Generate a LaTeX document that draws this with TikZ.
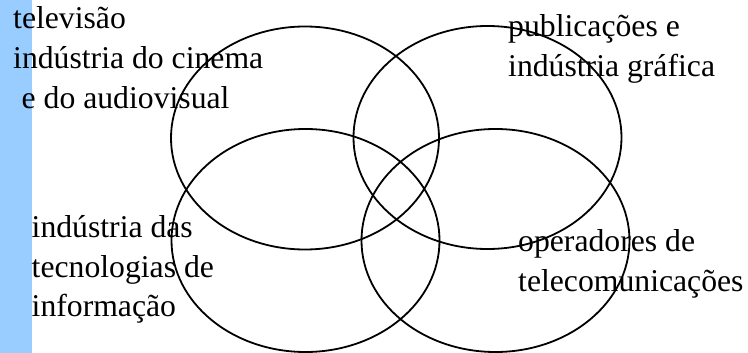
\documentclass[tikz,border=0pt]{standalone}
\usepackage{fontspec}
\setmainfont{Liberation Serif}
\usetikzlibrary{shapes.geometric}
\definecolor{barblue}{RGB}{153,204,255}
\tikzset{
  venn/.style={ellipse, draw=black, line width=1.8pt, minimum width=268pt, minimum height=223pt, inner sep=0pt},
  lbl/.style={anchor=base west, inner sep=0pt, font=\fontsize{31.7}{40}\selectfont}
}
\begin{document}
\begin{tikzpicture}[x=1pt,y=-1pt]
\useasboundingbox (0,0) rectangle (748,353);
\fill[barblue] (0,0) rectangle (32,353);
\node[lbl] (t1) at (13,28.5) {televisão};
\node[lbl] (t2) at (13,68.5) {indústria do cinema};
\node[lbl] (t3) at (21.5,108.5) {e do audiovisual};
\node[lbl] (b1) at (31.5,237) {indústria das};
\node[lbl] (b2) at (31.5,277) {tecnologias de};
\node[lbl] (b3) at (31.5,316) {informação};
\node[lbl] (p1) at (508,37) {publicações e};
\node[lbl] (p2) at (508,77) {indústria gráfica};
\node[lbl] (o1) at (518,251.5) {operadores de};
\node[lbl] (o2) at (518,291) {telecomunicações};
\node[venn] (e1) at (305,138) {};
\node[venn] (e2) at (487.5,137.5) {};
\node[venn] (e3) at (305.5,240.5) {};
\node[venn] (e4) at (495.5,240.5) {};
\end{tikzpicture}
\end{document}
